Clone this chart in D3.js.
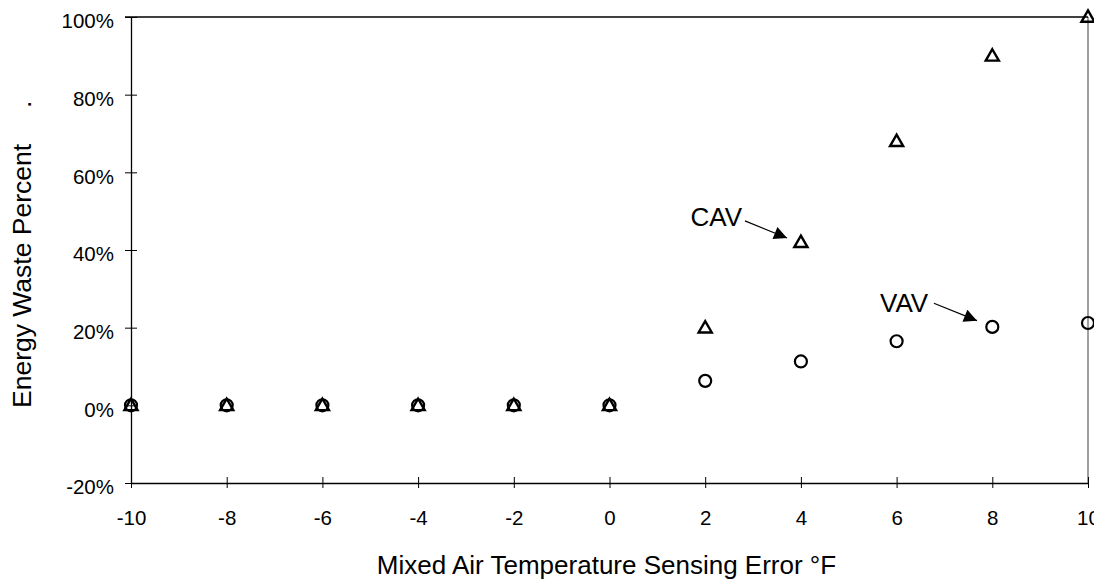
<!DOCTYPE html>
<html><head><meta charset="utf-8">
<script src="https://cdn.jsdelivr.net/npm/d3@7"></script>
<style>body{margin:0;background:#fff}svg{display:block}text{font-family:"Liberation Sans",Arial,sans-serif;fill:#000}</style>
</head><body>
<svg id="c" width="1094" height="579"></svg>
<script>
const xValues = [-10,-8,-6,-4,-2,0,2,4,6,8,10];
const cavValues = [0,0,0,0,0,0,20,42,68,90,100];
const vavValues = [0,0,0,0,0,0,6.3,11.3,16.5,20.2,21.2];
const xTicks = [-10,-8,-6,-4,-2,0,2,4,6,8,10];
const yTicks = [-20,0,20,40,60,80,100];
const annotations = [
  {label:"CAV", tx:2.77, ty:46.2, x1:2.83, y1:47.5, x2:3.71, y2:43.1},
  {label:"VAV", tx:6.66, ty:24.0, x1:6.78, y1:26.3, x2:7.68, y2:21.8}
];

const svg = d3.select("#c");
const L=131, R=1088, T=17, B=483;
const x = d3.scaleLinear().domain([-10,10]).range([L,R]);
const y = d3.scaleLinear().domain([-20,100]).range([B,T]);

svg.append("defs").append("marker").attr("id","ah")
  .attr("viewBox","0 0 10 10").attr("refX",10).attr("refY",5)
  .attr("markerWidth",18).attr("markerHeight",13).attr("markerUnits","userSpaceOnUse")
  .attr("orient","auto")
  .append("path").attr("d","M0,0L10,5L0,10Z").attr("fill","#000");

// right border (gray) and top border
svg.append("line").attr("x1",R).attr("x2",R).attr("y1",T).attr("y2",B).attr("stroke","#808080").attr("stroke-width",1.5);
svg.append("line").attr("x1",L-6).attr("x2",R).attr("y1",T).attr("y2",T).attr("stroke","#000").attr("stroke-width",1.3);

// y axis
const yAxis = svg.append("g").attr("transform",`translate(${L},0)`)
  .call(d3.axisLeft(y).tickValues(yTicks).tickFormat(d=>d+"%").tickSizeInner(6).tickSizeOuter(0).tickPadding(11));
yAxis.select(".domain").attr("stroke-width",1.3);
yAxis.selectAll(".tick line").attr("x2",6).attr("x1",-6).attr("stroke-width",1);
yAxis.selectAll(".tick text").attr("font-size",20.5).attr("dy","0.53em").style("font-family","'Liberation Sans',Arial,sans-serif");

// x axis
const xAxis = svg.append("g").attr("transform",`translate(0,${B})`)
  .call(d3.axisBottom(x).tickValues(xTicks).tickFormat(d3.format("d")).tickSizeInner(6).tickSizeOuter(0).tickPadding(21));
xAxis.select(".domain").attr("stroke-width",1.3);
xAxis.selectAll(".tick line").attr("y1",-6).attr("y2",5).attr("stroke-width",1);
xAxis.selectAll(".tick text").attr("font-size",20.5).style("font-family","'Liberation Sans',Arial,sans-serif");
xAxis.selectAll(".tick text").text(d=>String(d));
yAxis.selectAll(".tick text").text(d=>d+"%");

// circles (VAV)
svg.append("g").selectAll("circle").data(xValues.map((d,i)=>[d,vavValues[i]])).join("circle")
  .attr("cx",d=>x(d[0])).attr("cy",d=>y(d[1])).attr("r",6)
  .attr("fill","none").attr("stroke","#000").attr("stroke-width",2.2);

// triangles (CAV)
const tri = d3.symbol().type(d3.symbolTriangle).size(75);
svg.append("g").selectAll("path").data(xValues.map((d,i)=>[d,cavValues[i]])).join("path")
  .attr("d",tri).attr("transform",d=>`translate(${x(d[0])},${y(d[1])+1})`)
  .attr("fill","none").attr("stroke","#000").attr("stroke-width",2.4).attr("stroke-linejoin","miter");

// annotations
annotations.forEach(a=>{
  svg.append("text").attr("x",x(a.tx)).attr("y",y(a.ty)).attr("text-anchor","end").attr("font-size",26).text(a.label);
  svg.append("line").attr("x1",x(a.x1)).attr("y1",y(a.y1)).attr("x2",x(a.x2)).attr("y2",y(a.y2))
    .attr("stroke","#000").attr("stroke-width",1.2).attr("marker-end","url(#ah)");
});

// axis titles
svg.append("text").attr("x",(L+R)/2-3).attr("y",574).attr("text-anchor","middle").attr("font-size",26)
  .text("Mixed Air Temperature Sensing Error °F");
svg.append("text").attr("transform","translate(31,408) rotate(-90)").attr("text-anchor","start").attr("font-size",26.5)
  .text("Energy Waste Percent");
svg.append("text").attr("transform","translate(31,108) rotate(-90)").attr("text-anchor","start").attr("font-size",26.5)
  .text(".");
</script>
</body></html>
